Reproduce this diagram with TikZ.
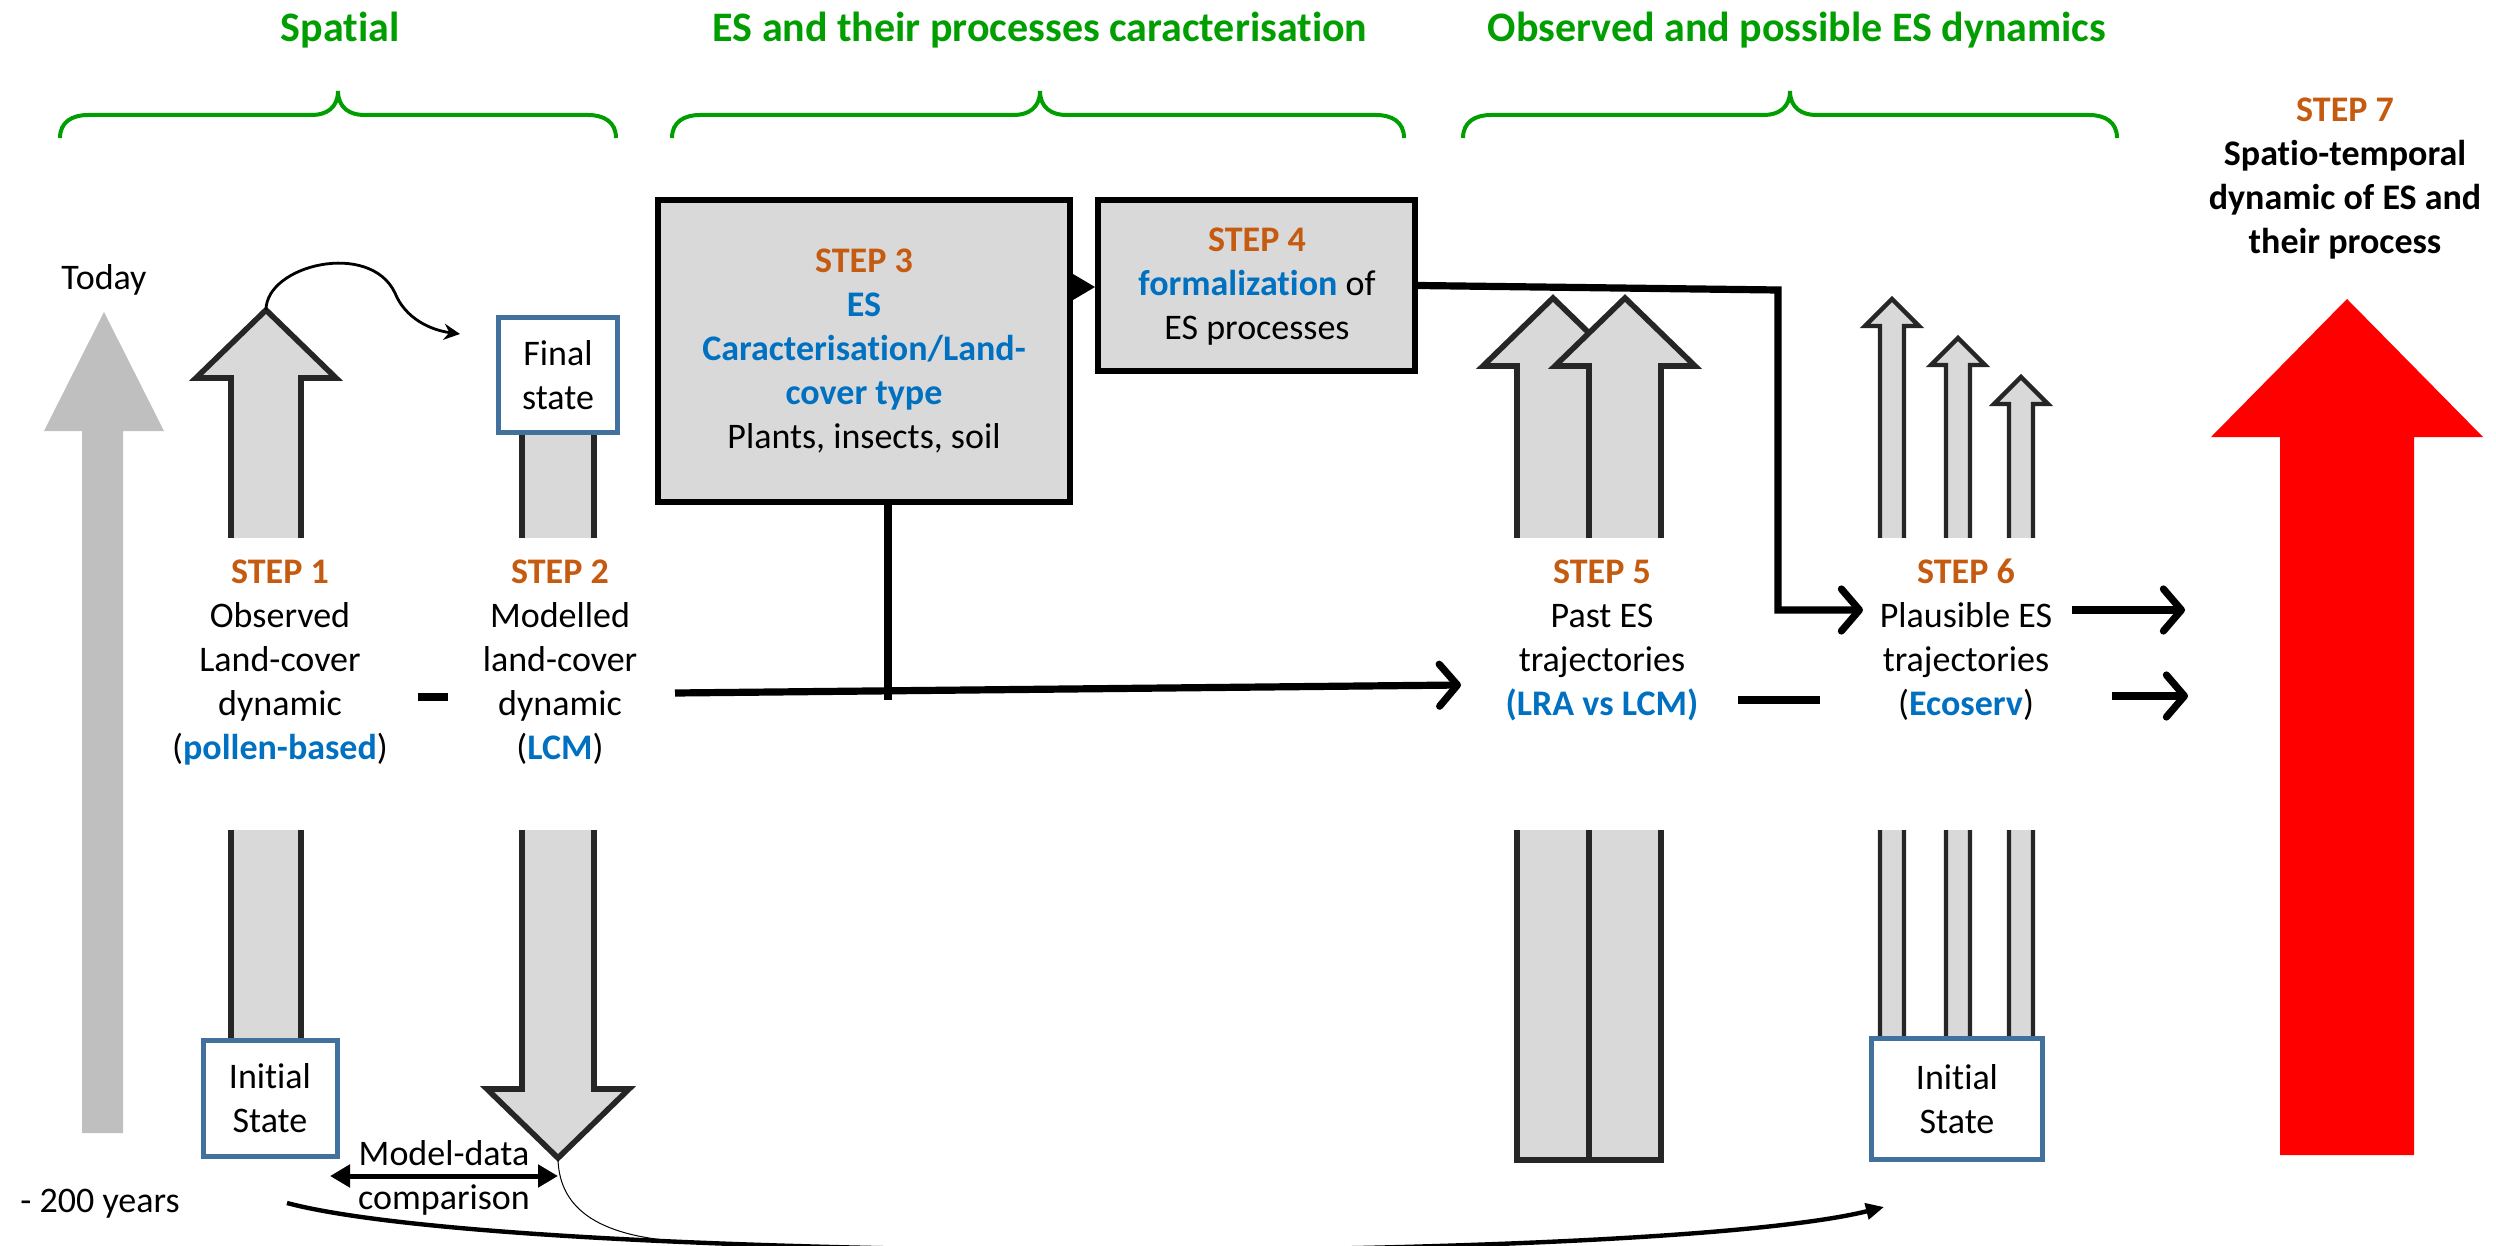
\documentclass[tikz,border=0pt]{standalone}
\usepackage{fontspec}
\setmainfont{Carlito}[Ligatures={NoCommon}]
\usetikzlibrary{arrows.meta}
\definecolor{tgreen}{RGB}{0,158,0}
\definecolor{torange}{RGB}{197,90,17}
\definecolor{tblue}{RGB}{0,112,192}
\definecolor{bblue}{RGB}{65,113,156}
\definecolor{agray}{RGB}{191,191,191}
\definecolor{fgray}{RGB}{217,217,217}
\definecolor{outl}{RGB}{38,38,38}
\newcommand{\bodyfont}{\fontsize{18}{22}\selectfont}
\newcommand{\titlefont}{\fontsize{21}{25}\selectfont\bfseries}
\newcommand{\mlines}[1]{\begin{tabular}[t]{@{}c@{}}#1\end{tabular}}
\newcommand{\stp}[1]{\textcolor{torange}{\textbf{#1}}}
\newcommand{\bl}[1]{\textcolor{tblue}{\textbf{#1}}}
\tikzset{
  txt/.style={font=\bodyfont, anchor=base, inner sep=0pt},
  ttl/.style={font=\titlefont, text=tgreen, anchor=base, inner sep=0pt},
  gbrace/.style={draw=tgreen, line width=2pt},
  blockarrow/.style={fill=fgray, draw=outl, line width=2.8pt, line join=miter},
  thinarrow/.style={fill=fgray, draw=outl, line width=2.2pt, line join=miter},
  bluebox/.style={draw=bblue, line width=2.5pt, fill=white, font=\bodyfont, align=center, inner sep=0pt},
  stepbox/.style={draw=black, line width=3pt, fill=fgray, inner sep=0pt},
  conn/.style={line width=3.6pt, -{Straight Barb[length=9pt,width=21pt,round]}},
  dashbar/.style={line width=4pt},
  dbl/.style={line width=2.5pt, {Triangle[length=10pt,width=11pt]}-{Triangle[length=10pt,width=11pt]}}
}
\begin{document}
\begin{tikzpicture}[x=0.5pt,y=-0.5pt]
\useasboundingbox (0,0) rectangle (2496,1246);
\clip (0,0) rectangle (2496,1246);

% titles and braces
\node[ttl] (T1) at (340,42) {Spatial};
\node[ttl] (T2) at (1040,42) {ES and their processes caracterisation};
\node[ttl] (T3) at (1797,42) {Observed and possible ES dynamics};
\draw[gbrace] (60,138) .. controls (60,122) and (72,115) .. (88,115) -- (312,115) .. controls (326,115) and (338,108) .. (338,91) .. controls (338,108) and (350,115) .. (364,115) -- (588,115) .. controls (604,115) and (616,122) .. (616,138);
\draw[gbrace] (672,138) .. controls (672,122) and (684,115) .. (700,115) -- (1014,115) .. controls (1028,115) and (1040,108) .. (1040,91) .. controls (1040,108) and (1052,115) .. (1066,115) -- (1376,115) .. controls (1392,115) and (1404,122) .. (1404,138);
\draw[gbrace] (1463,138) .. controls (1463,122) and (1475,115) .. (1491,115) -- (1764,115) .. controls (1778,115) and (1790,108) .. (1790,91) .. controls (1790,108) and (1802,115) .. (1816,115) -- (2089,115) .. controls (2105,115) and (2117,122) .. (2117,138);

% time arrow
\fill[agray] (82,1133) -- (82,431) -- (44,431) -- (104,312) -- (164,431) -- (123,431) -- (123,1133) -- cycle;
\node[txt] (today) at (104,290) {Today};
\node[txt] (ago) at (100,1212) {- 200 years};

% block arrows
\draw[blockarrow] (231,1100) -- (231,378) -- (196,378) -- (266,310) -- (336,378) -- (301,378) -- (301,1100) -- cycle;
\draw[blockarrow] (522,400) -- (522,1089) -- (487,1089) -- (558,1158) -- (629,1089) -- (594,1089) -- (594,400) -- cycle;
\draw[blockarrow] (1517,1160) -- (1517,366) -- (1483,366) -- (1553,298) -- (1623,366) -- (1589,366) -- (1589,1160) -- cycle;
\draw[blockarrow] (1589,1160) -- (1589,366) -- (1555,366) -- (1625,298) -- (1695,366) -- (1661,366) -- (1661,1160) -- cycle;
\draw[thinarrow] (1880,1100) -- (1880,326) -- (1865,326) -- (1892,299) -- (1919,326) -- (1904,326) -- (1904,1100) -- cycle;
\draw[thinarrow] (1946,1100) -- (1946,365) -- (1931,365) -- (1958,338) -- (1985,365) -- (1970,365) -- (1970,1100) -- cycle;
\draw[thinarrow] (2009,1100) -- (2009,404) -- (1994,404) -- (2021,377) -- (2048,404) -- (2033,404) -- (2033,1100) -- cycle;
\fill[red] (2280,1155) -- (2280,437) -- (2211,437) -- (2347,299) -- (2483,437) -- (2414,437) -- (2414,1155) -- cycle;

% text gaps
\fill[white] (222,538) rectangle (310,830);
\fill[white] (513,538) rectangle (603,830);
\fill[white] (1505,538) rectangle (1672,830);
\fill[white] (1858,538) rectangle (2052,830);

% step texts
\node[txt] (s1) at (280,583) {\mlines{\stp{STEP 1}\\Observed\\Land-cover\\dynamic\\(\bl{pollen-based})}};
\node[txt] (s2) at (560,583) {\mlines{\stp{STEP 2}\\Modelled\\land-cover\\dynamic\\(\bl{LCM})}};
\node[txt] (s5) at (1602,583) {\mlines{\stp{STEP 5}\\Past ES\\trajectories\\\bl{(LRA vs LCM)}}};
\node[txt] (s6) at (1966,583) {\mlines{\stp{STEP 6}\\Plausible ES\\trajectories\\(\bl{Ecoserv})}};
\node[txt] (s7) at (2345,122) {\mlines{\stp{STEP 7}\\\textbf{Spatio-temporal}\\\textbf{dynamic of ES and}\\\textbf{their process}}};

% state boxes
\node[bluebox, minimum width=59.5pt, minimum height=57.5pt] (fs) at (558,375) {Final\\state};
\node[bluebox, minimum width=67pt, minimum height=58pt] (is1) at (270,1098) {Initial\\State};
\node[bluebox, minimum width=85.5pt, minimum height=60.5pt] (is6) at (1957,1099) {Initial\\State};

% step 3 and 4 boxes
\node[stepbox, minimum width=206pt, minimum height=151pt] (b3) at (864,351) {};
\node[stepbox, minimum width=158.5pt, minimum height=85.5pt] (b4) at (1256.5,285.5) {};
\node[txt] (s3) at (864,273) {\mlines{\stp{STEP 3}\\\bl{ES}\\\bl{Caracterisation/Land-}\\\bl{cover type}\\Plants, insects, soil}};
\node[txt] (s4) at (1257,252) {\mlines{\stp{STEP 4}\\\bl{formalization} of\\ES processes}};
\coordinate (y274) at (0,274);
\coordinate (y287) at (0,287);
\coordinate (y300) at (0,300);
\fill (b3.east |- y274) -- (b4.west |- y287) -- (b3.east |- y300) -- cycle;

% connectors
\coordinate (x888) at (888,0);
\coordinate (v3) at (888,700);
\draw[line width=3.6pt] (b3.south -| x888) -- (v3);
\coordinate (h1) at (675,693);
\coordinate (h2) at (1461,685);
\draw[conn] (h1) -- (h2);
\coordinate (c46a) at (1778,290);
\coordinate (c46b) at (1863,610);
\draw[conn] (b4.east) -- (c46a) |- (c46b);
\coordinate (r1a) at (2072,610);
\coordinate (r1b) at (2185,610);
\coordinate (r2a) at (2112,696);
\coordinate (r2b) at (2188,696);
\draw[conn] (r1a) -- (r1b);
\draw[conn] (r2a) -- (r2b);
\draw[dashbar] (418,697) -- (448,697);
\draw[dashbar] (1738,700) -- (1820,700);

% model-data comparison
\coordinate (md1) at (330,1176);
\coordinate (md2) at (558,1176);
\draw[dbl] (md1) -- (md2);
\node[txt] (md) at (444,1165) {\mlines{Model-data\\comparison}};

% curves
\draw[line width=1.4pt, -{Stealth[length=8pt,width=8pt]}] (266,310) .. controls (266,265) and (370,240) .. (395,293) .. controls (405,318) and (430,330) .. (460,334);
\draw[line width=2.2pt, -{Triangle[length=9pt,width=8pt]}] (287,1203) .. controls (520,1265) and (1650,1265) .. (1884,1207);
\draw[line width=0.5pt] (558,1160) .. controls (560,1210) and (600,1238) .. (690,1242);
\end{tikzpicture}
\end{document}
